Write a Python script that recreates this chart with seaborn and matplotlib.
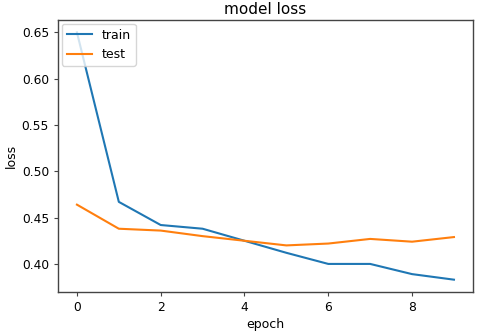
import matplotlib
matplotlib.use("Agg")
import matplotlib.pyplot as plt
import seaborn as sns
import pandas as pd

epochs = list(range(10))
train_loss = [0.650, 0.467, 0.442, 0.438, 0.425, 0.412, 0.400, 0.400, 0.389, 0.383]
test_loss = [0.464, 0.438, 0.436, 0.430, 0.425, 0.420, 0.422, 0.427, 0.424, 0.429]
series_names = ["train", "test"]

df = pd.DataFrame({
    "epoch": epochs * 2,
    "loss": train_loss + test_loss,
    "series": [series_names[0]] * len(epochs) + [series_names[1]] * len(epochs),
})

plt.rcParams["font.family"] = ["DejaVu Sans"]
fig = plt.figure(figsize=(4.8, 3.33), dpi=100)
ax = fig.add_axes([0.121, 0.123, 0.864, 0.817])
sns.lineplot(data=df, x="epoch", y="loss", hue="series",
             palette=["#1f77b4", "#ff7f0e"], linewidth=1.5, ax=ax)
ax.set_title("model loss", fontsize=11, pad=4)
ax.set_xlabel("epoch", fontsize=9, labelpad=3)
ax.set_ylabel("loss", fontsize=9, labelpad=3)
ax.tick_params(labelsize=8.8, length=3, color="#444444")
ax.set_xticks([0, 2, 4, 6, 8])
ax.set_yticks([0.40, 0.45, 0.50, 0.55, 0.60, 0.65])
ax.yaxis.set_major_formatter(matplotlib.ticker.FormatStrFormatter("%.2f"))
leg = ax.legend(loc="upper left", fontsize=9, handlelength=2, borderaxespad=0.3)
for s in ax.spines.values():
    s.set_color("#444444")
    s.set_linewidth(1.0)
fig.savefig("out.png", dpi=100)
